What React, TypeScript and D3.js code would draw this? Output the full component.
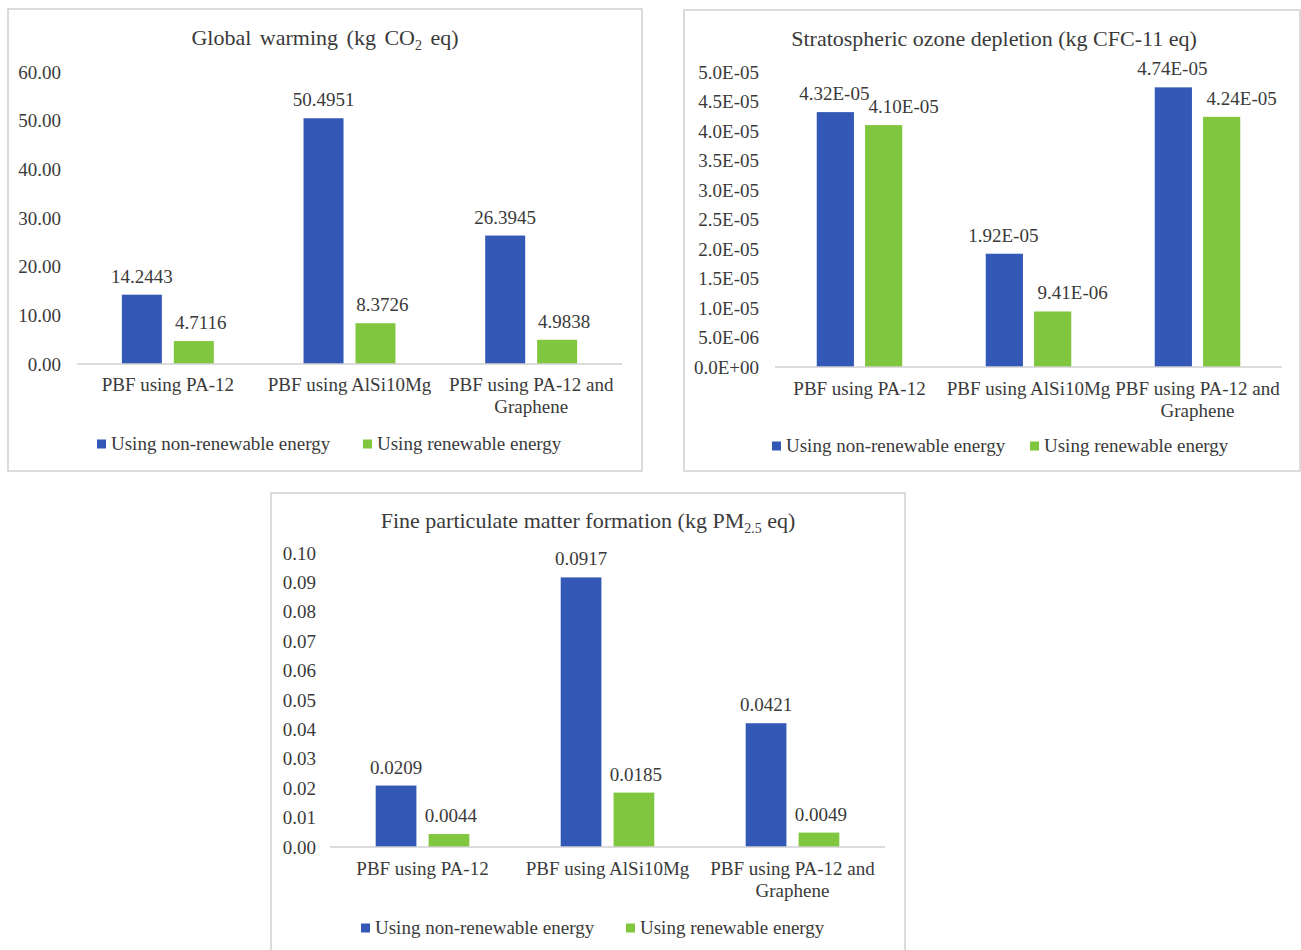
import React from "react";
import * as d3 from "d3";

// ---------- data ----------
const categories = ["PBF using PA-12", "PBF using AlSi10Mg", "PBF using PA-12 and\nGraphene"];
const seriesNames = ["Using non-renewable energy", "Using renewable energy"];

const gwNonRenewable = [14.2443, 50.4951, 26.3945];
const gwRenewable = [4.7116, 8.3726, 4.9838];
const gwTicks = [0, 10, 20, 30, 40, 50, 60];

const odNonRenewable = [4.32e-5, 1.92e-5, 4.74e-5];
const odRenewable = [4.10e-5, 9.41e-6, 4.24e-5];
const odTicks = [0, 5e-6, 1e-5, 1.5e-5, 2e-5, 2.5e-5, 3e-5, 3.5e-5, 4e-5, 4.5e-5, 5e-5];

const pmNonRenewable = [0.0209, 0.0917, 0.0421];
const pmRenewable = [0.0044, 0.0185, 0.0049];
const pmTicks = [0, 0.01, 0.02, 0.03, 0.04, 0.05, 0.06, 0.07, 0.08, 0.09, 0.1];

// ---------- styles ----------
const COLORS = ["#3458B6", "#80C63E"];
const TEXT = "#3a3a3a";
const FONT = "'Liberation Serif', 'Times New Roman', serif";

const sciFmt = (digits: number) => (v: number) => {
  const s = v.toExponential(digits);
  const [m, e] = s.split("e");
  const sign = e[0] === "-" ? "-" : "+";
  const num = e.replace(/[+-]/, "");
  return `${m}E${sign}${num.padStart(2, "0")}`;
};

type Panel = {
  titleMain: string;
  titleSub: string;
  titleEnd: string;
  titleWordSpacing: number;
  series: number[][];
  ticks: number[];
  tickFmt: (v: number) => string;
  valueFmt: (v: number) => string;
  box: { x: number; y: number; w: number; h: number };
  plot: { x0: number; x1: number; yTop: number; yBase: number };
  titlePos: { x: number; y: number };
  tickRight: number;
  catY: number;
  legendY: number;
  legendX: number[];
  labelDx: number[];
};

const panels: Panel[] = [
  {
    titleMain: "Global warming (kg CO",
    titleSub: "2",
    titleEnd: " eq)",
    titleWordSpacing: 3,
    series: [gwNonRenewable, gwRenewable],
    ticks: gwTicks,
    tickFmt: d3.format(".2f"),
    valueFmt: d3.format(".4f"),
    box: { x: 8, y: 9, w: 634, h: 462 },
    plot: { x0: 77, x1: 622, yTop: 72, yBase: 364 },
    titlePos: { x: 325, y: 45 },
    tickRight: 61,
    catY: 391,
    legendY: 444,
    legendX: [97, 363],
    labelDx: [0, 7],
  },
  {
    titleMain: "Stratospheric ozone depletion (kg CFC-11 eq)",
    titleSub: "",
    titleEnd: "",
    titleWordSpacing: 0,
    series: [odNonRenewable, odRenewable],
    ticks: odTicks,
    tickFmt: sciFmt(1),
    valueFmt: sciFmt(2),
    box: { x: 684, y: 10, w: 616, h: 461 },
    plot: { x0: 775, x1: 1282, yTop: 72, yBase: 367 },
    titlePos: { x: 994, y: 46 },
    tickRight: 759,
    catY: 395,
    legendY: 446,
    legendX: [772, 1030],
    labelDx: [-1, 20],
  },
  {
    titleMain: "Fine particulate matter formation (kg PM",
    titleSub: "2.5",
    titleEnd: " eq)",
    titleWordSpacing: 0,
    series: [pmNonRenewable, pmRenewable],
    ticks: pmTicks,
    tickFmt: d3.format(".2f"),
    valueFmt: d3.format(".4f"),
    box: { x: 271, y: 493, w: 634, h: 470 },
    plot: { x0: 330, x1: 885, yTop: 553, yBase: 847 },
    titlePos: { x: 588, y: 528 },
    tickRight: 316,
    catY: 875,
    legendY: 928,
    legendX: [361, 626],
    labelDx: [0, 2],
  },
];

function ChartPanel({ p }: { p: Panel }) {
  const maxTick = p.ticks[p.ticks.length - 1];
  const y = d3.scaleLinear().domain([0, maxTick]).range([p.plot.yBase, p.plot.yTop]);
  const x = d3.scaleBand<number>().domain(d3.range(categories.length)).range([p.plot.x0, p.plot.x1]).paddingInner(0).paddingOuter(0);
  const step = x.step();
  const inner = d3
    .scaleBand<number>()
    .domain(d3.range(p.series.length))
    .range([-0.253 * step, 0.253 * step])
    .paddingInner(0.23);

  return (
    <g>
      <rect x={p.box.x} y={p.box.y} width={p.box.w} height={p.box.h} fill="#fff" stroke="#d0d0d0" strokeWidth={1.5} />
      <text
        x={p.titlePos.x}
        y={p.titlePos.y}
        textAnchor="middle"
        fontSize={22}
        fill={TEXT}
        fontFamily={FONT}
        style={{ wordSpacing: `${p.titleWordSpacing}px` }}
      >
        {p.titleMain}
        {p.titleSub && (
          <tspan fontSize={14} dy={5}>
            {p.titleSub}
          </tspan>
        )}
        {p.titleEnd && <tspan dy={p.titleSub ? -5 : 0}>{p.titleEnd}</tspan>}
      </text>
      {p.ticks.map((t, i) => (
        <text key={i} x={p.tickRight} y={y(t)} dy="0.35em" textAnchor="end" fontSize={19} fill={TEXT} fontFamily={FONT}>
          {p.tickFmt(t)}
        </text>
      ))}
      {p.series.map((vals, si) =>
        vals.map((v, ci) => {
          const cx = (x(ci) as number) + step / 2;
          const bx = cx + (inner(si) as number);
          return (
            <g key={`${si}-${ci}`}>
              <rect x={bx} y={y(v)} width={inner.bandwidth()} height={p.plot.yBase - y(v)} fill={COLORS[si]} />
              <text
                x={bx + inner.bandwidth() / 2 + p.labelDx[si]}
                y={y(v) - 12}
                textAnchor="middle"
                fontSize={19}
                fill={TEXT}
                fontFamily={FONT}
              >
                {p.valueFmt(v)}
              </text>
            </g>
          );
        })
      )}
      <line x1={p.plot.x0} x2={p.plot.x1} y1={p.plot.yBase} y2={p.plot.yBase} stroke="#d0d0d0" strokeWidth={1.5} />
      {categories.map((c, ci) => {
        const cx = (x(ci) as number) + step / 2;
        return (
          <text key={ci} x={cx} y={p.catY} textAnchor="middle" fontSize={19} fill={TEXT} fontFamily={FONT}>
            {c.split("\n").map((line, li) => (
              <tspan key={li} x={cx} dy={li === 0 ? 0 : 22}>
                {line}
              </tspan>
            ))}
          </text>
        );
      })}
      {seriesNames.map((s, si) => (
        <g key={si}>
          <rect x={p.legendX[si]} y={p.legendY - 4.5} width={9} height={9} fill={COLORS[si]} />
          <text x={p.legendX[si] + 14} y={p.legendY} dy="0.33em" fontSize={19} fill={TEXT} fontFamily={FONT}>
            {s}
          </text>
        </g>
      ))}
    </g>
  );
}

export default function App() {
  return (
    <svg
      width={1301}
      height={950}
      style={{ position: "absolute", left: 0, top: 0, background: "#fff" }}
      xmlns="http://www.w3.org/2000/svg"
    >
      <rect x={0} y={0} width={1301} height={950} fill="#fff" />
      {panels.map((p, i) => (
        <ChartPanel key={i} p={p} />
      ))}
    </svg>
  );
}
